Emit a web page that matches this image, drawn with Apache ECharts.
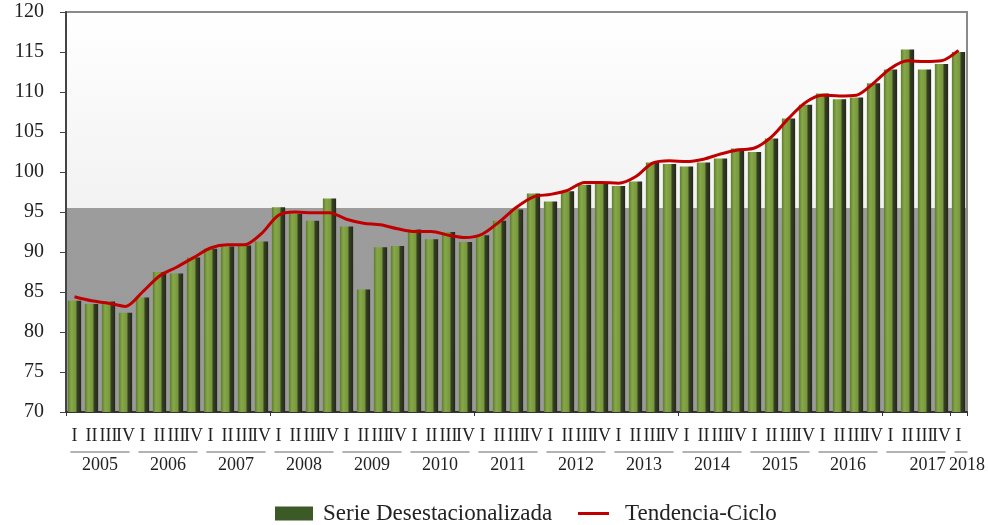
<!DOCTYPE html>
<html>
<head>
<meta charset="utf-8">
<script src="https://cdn.jsdelivr.net/npm/echarts@6/dist/echarts.min.js"></script>
<style>html,body{margin:0;padding:0;background:#fff}#c{width:988px;height:525px}</style>
</head>
<body>
<div id="c"></div>
<script>
var years = ['2005','2006','2007','2008','2009','2010','2011','2012','2013','2014','2015','2016','2017','2018'];
var quarterNames = ['I','II','III','IV'];
var serieDesest = [83.9, 83.5, 83.8, 82.4, 84.3, 87.5, 87.3, 89.3, 90.4, 90.7, 90.8, 91.3,
  95.6, 94.75, 93.9, 96.7, 93.2, 85.3, 90.6, 90.75, 92.8, 91.6, 92.5, 91.25,
  92.1, 93.9, 95.3, 97.3, 96.3, 97.6, 98.4, 98.6, 98.25, 98.8, 101.2, 101.0,
  100.7, 101.2, 101.7, 102.95, 102.5, 104.2, 106.7, 108.4, 109.8, 109.1, 109.3, 111.1,
  112.8, 115.3, 112.8, 113.5, 115.0];
var tendencia = [84.4, 83.9, 83.6, 83.2, 85.0, 87.0, 88.1, 89.3, 90.5, 90.9, 90.9, 92.3,
  94.6, 95.0, 94.9, 94.9, 94.1, 93.6, 93.4, 92.9, 92.55, 92.55, 92.1, 91.8,
  92.25, 93.8, 95.6, 96.9, 97.2, 97.7, 98.7, 98.7, 98.6, 99.4, 101.1, 101.4,
  101.3, 101.6, 102.25, 102.75, 103.0, 104.4, 106.7, 108.7, 109.6, 109.5, 109.6, 111.1,
  112.95, 113.9, 113.8, 113.9, 115.2];
var yTicks = {min: 70, max: 120, step: 5};

var categories = [];
for (var i = 0; i < serieDesest.length; i++) {
  categories.push(years[Math.floor(i / 4)] + '-' + quarterNames[i % 4]);
}

var serif = 'Liberation Serif';
var chart = echarts.init(document.getElementById('c'));
chart.setOption({
  animation: false,
  grid: {
    left: 66, top: 12, width: 901, height: 400,
    show: true, borderColor: '#8a8a8a', borderWidth: 2,
    backgroundColor: {
      type: 'linear', x: 0, y: 0, x2: 0, y2: 1,
      colorStops: [
        {offset: 0, color: '#ffffff'},
        {offset: 0.49, color: '#f2f2f2'},
        {offset: 0.49, color: '#9c9c9c'},
        {offset: 1, color: '#9a9a9a'}
      ]
    }
  },
  legend: [{
    left: 270, top: 497, itemWidth: 38, itemHeight: 14, icon: 'rect',
    data: [{name: 'Serie Desestacionalizada', itemStyle: {color: '#3b5a27'}}],
    textStyle: {fontFamily: serif, fontSize: 23, color: '#222', padding: [0, 0, 0, 5]}
  }, {
    left: 573, top: 497, itemWidth: 31, itemHeight: 3, icon: 'rect',
    data: [{name: 'Tendencia-Ciclo', itemStyle: {color: '#c00000'}}],
    textStyle: {fontFamily: serif, fontSize: 23, color: '#222', padding: [0, 0, 0, 11]}
  }],
  xAxis: [{
    type: 'category', data: categories, boundaryGap: true,
    axisLine: {lineStyle: {color: '#333', width: 2}},
    axisTick: {show: true, interval: 11, length: 4, lineStyle: {color: '#333'}},
    axisLabel: {
      interval: 0, hideOverlap: false, margin: 15,
      fontFamily: serif, fontSize: 18, color: '#222',
      formatter: function (v, idx) { return quarterNames[idx % 4]; }
    }
  }, {
    type: 'category', data: categories, boundaryGap: true, position: 'bottom', offset: 40,
    axisLine: {show: true, lineStyle: {color: '#9a9a9a', width: 1.5, type: [58, 10], dashOffset: 63}},
    axisTick: {show: false},
    axisLabel: {
      interval: 0, hideOverlap: false, margin: 4,
      fontFamily: serif, fontSize: 18, color: '#222',
      formatter: function (v, idx) {
        var y = years[Math.floor(idx / 4)];
        if (idx === categories.length - 1 && idx % 4 === 0) return '{c|' + y + '}';
        if (idx % 4 !== 1) return '';
        if (y === '2017') return '{b|' + y + '}';
        return '{a|' + y + '}';
      },
      rich: {
        a: {fontFamily: serif, fontSize: 18, color: '#222', padding: [0, 0, 0, 17]},
        b: {fontFamily: serif, fontSize: 18, color: '#222', padding: [0, 0, 0, 40]},
        c: {fontFamily: serif, fontSize: 18, color: '#222', padding: [0, 0, 0, 17]}
      }
    }
  }],
  yAxis: {
    type: 'value', min: yTicks.min, max: yTicks.max, interval: yTicks.step,
    axisLine: {show: true, lineStyle: {color: '#444', width: 2}},
    axisTick: {show: true, length: 6, lineStyle: {color: '#444'}},
    splitLine: {show: false},
    axisLabel: {fontFamily: serif, fontSize: 20, color: '#222', margin: 22}
  },
  series: [{
    name: 'Serie Desestacionalizada', type: 'bar', data: serieDesest,
    barCategoryGap: '22%',
    itemStyle: {
      color: {
        type: 'linear', x: 0, y: 0, x2: 1, y2: 0,
        colorStops: [
          {offset: 0, color: '#5e7b2c'},
          {offset: 0.25, color: '#86a84a'},
          {offset: 0.64, color: '#749639'},
          {offset: 0.66, color: '#3a4328'},
          {offset: 1, color: '#22281a'}
        ]
      }
    }
  }, {
    name: 'Tendencia-Ciclo', type: 'line', data: tendencia,
    smooth: 0.3, showSymbol: false, symbol: 'none',
    lineStyle: {color: '#c00000', width: 3},
    itemStyle: {color: '#c00000'},
    z: 5
  }]
});
</script>
</body>
</html>
